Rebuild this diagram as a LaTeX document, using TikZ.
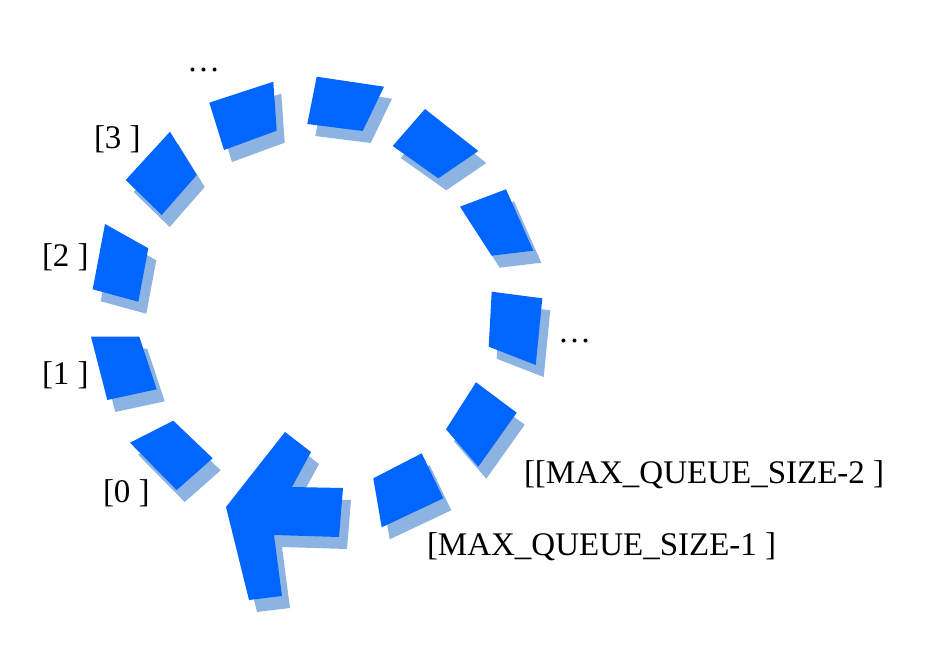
\documentclass[tikz,border=0pt]{standalone}
\usepackage{fontspec}
\setmainfont{Liberation Serif}
\definecolor{segblue}{RGB}{0,102,255}
\definecolor{shadowblue}{RGB}{141,179,226}
\begin{document}
\begin{tikzpicture}[x=1pt,y=-1pt,
  seg/.style={fill=segblue,draw=none},
  segshadow/.style={fill=shadowblue,draw=none,shift={(8,12)}},
  lbl/.style={anchor=base west,inner sep=0pt,outer sep=0pt,font=\fontsize{33}{40}\selectfont}]
\useasboundingbox[fill=white] (0,0) rectangle (948,661);
% segment outlines
\def\segA{(130,442.7) -- (173.3,420.7) -- (212.7,458.3) -- (176.7,490) -- cycle}
\def\segB{(91,336.7) -- (139.3,336.7) -- (156.7,389.3) -- (107.3,400) -- cycle}
\def\segC{(105,224) -- (148.3,248.3) -- (138.3,301.7) -- (92.7,289.3) -- cycle}
\def\segD{(125.7,180) -- (170,131.7) -- (196.7,175) -- (161.7,215) -- cycle}
\def\segE{(209.3,102.7) -- (273.3,81.7) -- (276.7,130.7) -- (224,150) -- cycle}
\def\segF{(316.7,76.7) -- (384,86.7) -- (362.7,131) -- (307.3,124) -- cycle}
\def\segG{(425,109) -- (478.3,151) -- (438.3,178.3) -- (392.7,146) -- cycle}
\def\segH{(506,189.3) -- (533.3,250.7) -- (491.7,255.7) -- (460,206.7) -- cycle}
\def\segI{(491.7,291.7) -- (542.3,298.3) -- (535.7,365) -- (488.7,346.7) -- cycle}
\def\segJ{(476,382.3) -- (516.7,412.7) -- (478.3,466.7) -- (446,429.3) -- cycle}
\def\segK{(373.3,478.3) -- (421.7,453.3) -- (443.3,498.3) -- (381.7,527.3) -- cycle}
\def\arrowshape{(285,432) -- (311,452) -- (292,487) -- (343,488) -- (339,537) -- (274,535) -- (282,596) -- (249,600) -- (226,507) -- cycle}
% shadows
\foreach \s in {\segA,\segB,\segC,\segD,\segE,\segF,\segG,\segH,\segI,\segJ,\segK,\arrowshape}
  \path[segshadow] \s;
% main shapes
\foreach \s in {\segA,\segB,\segC,\segD,\segE,\segF,\segG,\segH,\segI,\segJ,\segK,\arrowshape}
  \path[seg] \s;
% labels
\node[lbl] (dotstop) at (187,72) {…};
\node[lbl] (l3) at (94,148) {[3 ]};
\node[lbl] (l2) at (42,266) {[2 ]};
\node[lbl] (l1) at (42,384) {[1 ]};
\node[lbl] (l0) at (103,502) {[0 ]};
\node[lbl] (dotsright) at (558,342) {…};
\node[lbl] (lmax2) at (524,483) {[[MAX\_QUEUE\_SIZE-2 ]};
\node[lbl] (lmax1) at (427,555) {[MAX\_QUEUE\_SIZE-1 ]};
\end{tikzpicture}
\end{document}
